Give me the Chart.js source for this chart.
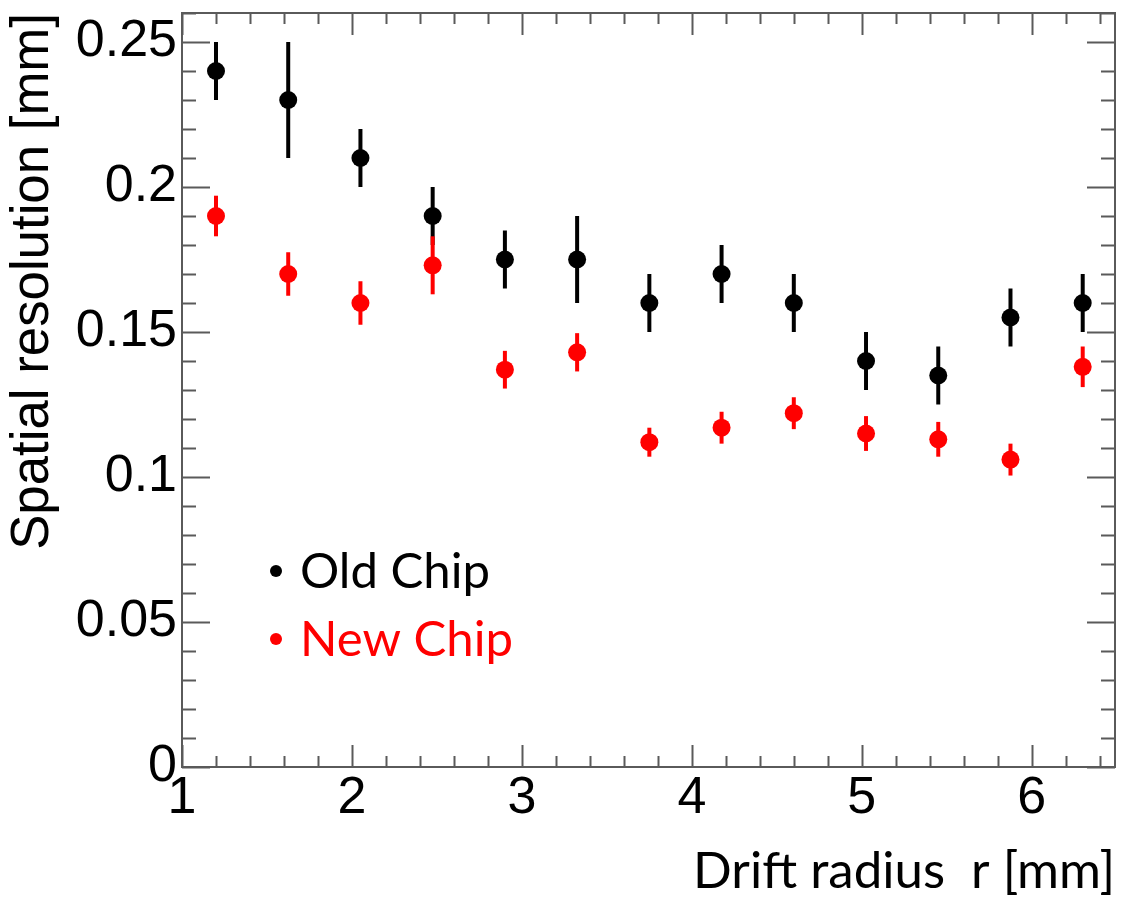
<!DOCTYPE html>
<html><head><meta charset="utf-8">
<script src="https://cdn.jsdelivr.net/npm/chart.js@4.4.1/dist/chart.umd.min.js"></script>
<style>html,body{margin:0;padding:0;background:#fff;overflow:hidden}</style>
</head><body>
<canvas id="c" width="1124" height="902"></canvas>
<script>
// ---- data ----
const radius = [1.2, 1.625, 2.05, 2.475, 2.9, 3.325, 3.75, 4.175, 4.6, 5.025, 5.45, 5.875, 6.3];
const oldRes = [0.240, 0.230, 0.210, 0.190, 0.175, 0.175, 0.160, 0.170, 0.160, 0.140, 0.135, 0.155, 0.160];
const oldErr = [0.010, 0.020, 0.010, 0.010, 0.010, 0.015, 0.010, 0.010, 0.010, 0.010, 0.010, 0.010, 0.010];
const newRes = [0.190, 0.170, 0.160, 0.173, 0.137, 0.143, 0.112, 0.117, 0.122, 0.115, 0.113, 0.106, 0.138];
const newErr = [0.007, 0.0075, 0.0075, 0.010, 0.0065, 0.0066, 0.005, 0.0055, 0.0055, 0.006, 0.006, 0.0055, 0.007];
const seriesLabels = ['Old Chip', 'New Chip'];
const seriesColors = ['#000000', '#ff0000'];
const xTickValues = [1, 2, 3, 4, 5, 6];
const yTickValues = [0, 0.05, 0.1, 0.15, 0.2, 0.25];
const xTitle = 'Drift radius  r [mm]';
const yTitle = 'Spatial resolution [mm]';

const AXIS_FONT = '"Liberation Sans", Arial, sans-serif';
const TEXT_FONT = 'Lato, "Open Sans", sans-serif';

function fitSize(text, family, width) {
  const ctx = document.createElement('canvas').getContext('2d');
  ctx.font = '100px ' + family;
  return 100 * width / ctx.measureText(text).width;
}
const xTitleSize = fitSize(xTitle, TEXT_FONT, 422);
const legendSize = fitSize(seriesLabels[0], TEXT_FONT, 190);
const yTitleSize = fitSize(yTitle, AXIS_FONT, 537);

const pts = (xs, ys) => xs.map((x, i) => ({x: x, y: ys[i]}));

const errorBars = {
  id: 'errorBars',
  beforeDatasetDraw(chart, args) {
    const ds = chart.data.datasets[args.index];
    if (!ds.errors) return;
    const ctx = chart.ctx, xs = chart.scales.x, ys = chart.scales.y, a = chart.chartArea;
    ctx.save();
    ctx.beginPath(); ctx.rect(a.left, a.top, a.right - a.left, a.bottom - a.top); ctx.clip();
    ctx.strokeStyle = ds.backgroundColor; ctx.lineWidth = 4; ctx.lineCap = 'butt';
    ds.data.forEach((p, i) => {
      const e = ds.errors[i];
      const px = xs.getPixelForValue(p.x);
      ctx.beginPath();
      ctx.moveTo(px, ys.getPixelForValue(p.y - e));
      ctx.lineTo(px, ys.getPixelForValue(p.y + e));
      ctx.stroke();
    });
    ctx.restore();
  }
};

const frame = {
  id: 'frame',
  beforeDatasetsDraw(chart) {
    const ctx = chart.ctx, a = chart.chartArea, xs = chart.scales.x, ys = chart.scales.y;
    ctx.save();
    ctx.strokeStyle = '#5a5a5a'; ctx.lineWidth = 2;
    ctx.strokeRect(a.left, a.top, a.right - a.left, a.bottom - a.top);
    ctx.beginPath();
    for (let k = 0; ; k++) {
      const v = Math.round((xs.min + k * 0.2) * 1000) / 1000;
      if (v > xs.max + 1e-9) break;
      const major = Math.abs(v - Math.round(v)) < 1e-6;
      const L = major ? 22 : 11;
      const px = Math.round(xs.getPixelForValue(v)) + 0.5;
      ctx.moveTo(px, a.bottom); ctx.lineTo(px, a.bottom - L);
      ctx.moveTo(px, a.top); ctx.lineTo(px, a.top + L);
    }
    for (let k = 0; ; k++) {
      const v = Math.round((ys.min + k * 0.01) * 10000) / 10000;
      if (v > ys.max + 1e-9) break;
      const major = Math.abs(v / 0.05 - Math.round(v / 0.05)) < 1e-6;
      const L = major ? 28 : 14;
      const py = Math.round(ys.getPixelForValue(v)) + 0.5;
      ctx.moveTo(a.left, py); ctx.lineTo(a.left + L, py);
      ctx.moveTo(a.right, py); ctx.lineTo(a.right - L, py);
    }
    ctx.stroke();
    ctx.restore();
  }
};

const legendBox = {
  id: 'legendBox',
  afterDraw(chart) {
    const ctx = chart.ctx;
    const rows = [572, 640];
    ctx.save();
    ctx.font = legendSize + 'px ' + TEXT_FONT;
    ctx.textBaseline = 'middle';
    ctx.textAlign = 'left';
    seriesLabels.forEach((lab, i) => {
      ctx.fillStyle = seriesColors[i];
      ctx.beginPath(); ctx.arc(276, rows[i] - 1, 6, 0, Math.PI * 2); ctx.fill();
      ctx.fillText(lab, 300, rows[i]);
    });
    ctx.restore();
  }
};

new Chart(document.getElementById('c'), {
  type: 'scatter',
  data: {
    datasets: [
      {label: seriesLabels[0], data: pts(radius, oldRes), errors: oldErr,
       backgroundColor: seriesColors[0], borderColor: seriesColors[0], pointRadius: 9, borderWidth: 0, order: 2},
      {label: seriesLabels[1], data: pts(radius, newRes), errors: newErr,
       backgroundColor: seriesColors[1], borderColor: seriesColors[1], pointRadius: 9, borderWidth: 0, order: 1}
    ]
  },
  options: {
    responsive: false,
    animation: false,
    devicePixelRatio: 1,
    layout: {padding: {top: 13, right: 6, left: 0, bottom: 0}},
    plugins: {legend: {display: false}, tooltip: {enabled: false}},
    scales: {
      x: {
        type: 'linear', min: 1, max: 6.49,
        afterBuildTicks: s => { s.ticks = xTickValues.map(v => ({value: v})); },
        afterFit: s => { s.height = 135; s.paddingLeft = 0; s.paddingRight = 0; },
        grid: {display: false, drawTicks: false},
        border: {display: false},
        ticks: {font: {family: AXIS_FONT, size: 52}, color: '#000', padding: 0, autoSkip: false, maxRotation: 0,
                callback: v => String(v)},
        title: {display: true, text: xTitle, align: 'end', color: '#000',
                font: {family: TEXT_FONT, size: xTitleSize}, padding: {top: 0, bottom: 0}}
      },
      y: {
        type: 'linear', min: 0, max: 0.26,
        afterBuildTicks: s => { s.ticks = yTickValues.map(v => ({value: v})); },
        afterFit: s => { s.width = 182; s.paddingTop = 0; s.paddingBottom = 0; },
        grid: {display: false, drawTicks: false},
        border: {display: false},
        ticks: {font: {family: AXIS_FONT, size: 52}, color: '#000', padding: 5, autoSkip: false,
                callback: v => String(+Number(v).toFixed(3))},
        title: {display: true, text: yTitle, align: 'end', color: '#000',
                font: {family: AXIS_FONT, size: yTitleSize}, padding: {top: 2, bottom: 0}}
      }
    }
  },
  plugins: [errorBars, frame, legendBox]
});
</script>
</body></html>
